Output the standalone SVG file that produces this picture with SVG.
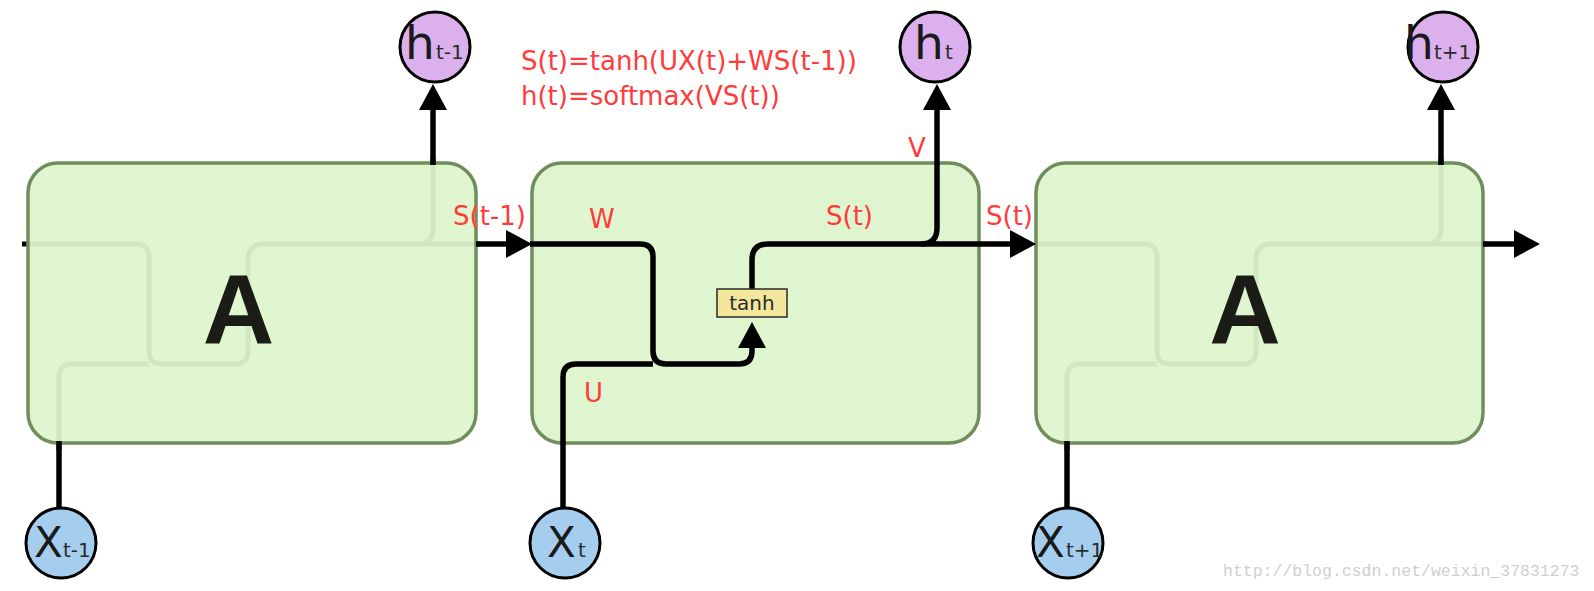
<svg xmlns="http://www.w3.org/2000/svg" width="1594" height="591" viewBox="0 0 1594 591">
<style>
.cell{stroke:#6f8e5b;stroke-width:3.5}
.cellf{fill:#def5ce;fill-opacity:0.94}
.cellm{fill:#dff5d0}
.ghost{fill:none;stroke:#000;stroke-width:5}
.wire{fill:none;stroke:#000;stroke-width:5.5}
.hc{fill:#dcb0ec;stroke:#000;stroke-width:3}
.xc{fill:#a5cdee;stroke:#000;stroke-width:3}
.big{font-family:"DejaVu Sans",sans-serif;fill:#1a1a1a}
.sub{font-family:"DejaVu Sans",sans-serif;font-size:20px;fill:#2a2a2a}
.A{font-family:"Liberation Sans",Arial,sans-serif;font-weight:bold;font-size:99px;fill:#1b1c16;text-anchor:middle}
.red{font-family:"DejaVu Sans",Verdana,sans-serif;font-size:26px;fill:#ff3b3b}
.wm{font-family:"Liberation Mono",monospace;font-size:16.5px;fill:#cfcfcf}
</style>
<defs>
<marker id="ah" markerUnits="userSpaceOnUse" markerWidth="26" markerHeight="28" refX="0" refY="14" orient="auto">
<path d="M0,0 L26,14 L0,28 z" fill="#000"/>
</marker>
</defs>

<g id="cell1">
<path class="ghost" d="M22,244 H136 Q149,244 149,257 V351 Q149,364 162,364 H235 Q248,364 248,351 V260 Q248,244 264,244 H480"/>
<path class="ghost" d="M59,450 V377 Q59,364 72,364 H149"/>
<path class="ghost" d="M417,244 Q433,244 433,228 V158"/>
<rect class="cell cellf" x="28" y="163" width="448" height="280" rx="30"/>
<text class="A" x="238.5" y="343">A</text>
</g>

<g id="cell2">
<rect class="cell cellm" x="532" y="163" width="447" height="280" rx="30"/>
</g>

<g id="cell3">
<path class="ghost" d="M1036,244 H1144 Q1157,244 1157,257 V351 Q1157,364 1170,364 H1243 Q1256,364 1256,351 V260 Q1256,244 1272,244 H1487"/>
<path class="ghost" d="M1067,450 V377 Q1067,364 1080,364 H1157"/>
<path class="ghost" d="M1425,244 Q1441,244 1441,228 V158"/>
<rect class="cell cellf" x="1036" y="163" width="447" height="280" rx="30"/>
<text class="A" x="1245" y="343">A</text>
</g>

<g id="connectors">
<path class="wire" d="M476,244 H506" marker-end="url(#ah)"/>
<path class="wire" d="M59,441 V508"/>
<path class="wire" d="M433,165 V110" marker-end="url(#ah)"/>
<path class="wire" d="M1483,244 H1514" marker-end="url(#ah)"/>
<path class="wire" d="M1441,165 V110" marker-end="url(#ah)"/>
<path class="wire" d="M1067,441 V508"/>
<path class="wire" d="M530,244 H640 Q653,244 653,257 V351 Q653,364 666,364 H739 Q752,364 752,351 V348" marker-end="url(#ah)"/>
<path class="wire" d="M563,508 V377 Q563,364 576,364 H653"/>
<path class="wire" d="M752,290 V260 Q752,244 768,244 H1010" marker-end="url(#ah)"/>
<path class="wire" d="M921,244 Q937,244 937,228 V110" marker-end="url(#ah)"/>
</g>

<g id="tanh">
<rect x="717" y="289" width="70" height="28" fill="#f3e79c" stroke="#2a2a2a" stroke-width="1.5"/>
<text x="752" y="310" font-family="DejaVu Sans,sans-serif" font-size="20" fill="#2b2b2b" text-anchor="middle">tanh</text>
</g>

<g id="h_tm1">
<circle class="hc" cx="435" cy="47" r="35"/>
<text class="big" x="405" y="59" font-size="47">h</text>
<text class="sub" x="436" y="59">t-1</text>
</g>
<g id="h_t">
<circle class="hc" cx="935" cy="47" r="35"/>
<text class="big" x="914" y="59" font-size="47">h</text>
<text class="sub" x="945" y="59">t</text>
</g>
<g id="h_tp1">
<circle class="hc" cx="1443" cy="47" r="35"/>
<text class="big" x="1404" y="59" font-size="47">h</text>
<text class="sub" x="1434" y="59">t+1</text>
</g>

<g id="x_tm1">
<circle class="xc" cx="61" cy="543" r="35"/>
<text class="big" x="34" y="557" font-size="42">X</text>
<text class="sub" x="63" y="557">t-1</text>
</g>
<g id="x_t">
<circle class="xc" cx="565" cy="543" r="35"/>
<text class="big" x="547" y="557" font-size="42">X</text>
<text class="sub" x="578" y="557">t</text>
</g>
<g id="x_tp1">
<circle class="xc" cx="1068" cy="543" r="35"/>
<text class="big" x="1036" y="557" font-size="42">X</text>
<text class="sub" x="1066" y="557">t+1</text>
</g>

<g id="labels">
<text class="red" x="521" y="70">S(t)=tanh(UX(t)+WS(t-1))</text>
<text class="red" x="521" y="105">h(t)=softmax(VS(t))</text>
<text class="red" x="453" y="225">S(t-1)</text>
<text class="red" x="589" y="228">W</text>
<text class="red" x="826" y="225">S(t)</text>
<text class="red" x="986" y="225">S(t)</text>
<text class="red" x="908" y="157">V</text>
<text class="red" x="584" y="402">U</text>
</g>

<text class="wm" x="1223" y="576">http://blog.csdn.net/weixin_37831273</text>
</svg>
